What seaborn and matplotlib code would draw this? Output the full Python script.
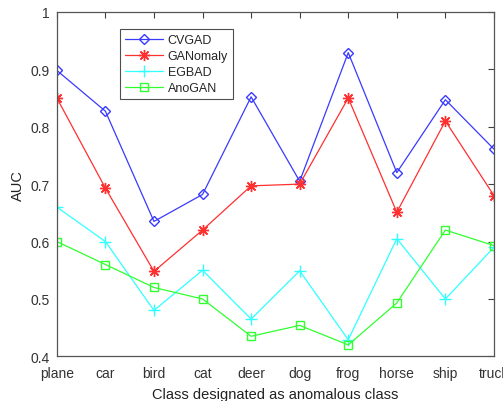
import matplotlib
matplotlib.use("Agg")
import matplotlib.pyplot as plt
import seaborn as sns
import pandas as pd

classes = ["plane", "car", "bird", "cat", "deer", "dog", "frog", "horse", "ship", "truck"]
cvgad = [0.898, 0.827, 0.635, 0.682, 0.852, 0.705, 0.929, 0.720, 0.847, 0.761]
ganomaly = [0.850, 0.693, 0.548, 0.620, 0.697, 0.700, 0.850, 0.651, 0.810, 0.680]
egbad = [0.660, 0.600, 0.480, 0.550, 0.465, 0.549, 0.429, 0.605, 0.500, 0.590]
anogan = [0.600, 0.560, 0.520, 0.500, 0.435, 0.454, 0.420, 0.493, 0.620, 0.593]
yticks = [0.4, 0.5, 0.6, 0.7, 0.8, 0.9, 1.0]
ytick_labels = ["0.4", "0.5", "0.6", "0.7", "0.8", "0.9", "1"]

sns.set_style("white")
plt.rcParams["font.family"] = ["Liberation Sans", "DejaVu Sans"]

fig = plt.figure(figsize=(5.03, 4.02), dpi=100)
ax = fig.add_axes([0.113, 0.111, 0.869, 0.857])

x = list(range(len(classes)))
series = [
    ("CVGAD", cvgad, "#3a3aff", "D", 5.5, "none"),
    ("GANomaly", ganomaly, "#ff3030", (8, 2, 0), 8, "#ff0000"),
    ("EGBAD", egbad, "#30ffff", "+", 9, "#00ffff"),
    ("AnoGAN", anogan, "#30ff30", "s", 5.5, "none"),
]
for name, vals, col, mk, ms, mfc in series:
    df = pd.DataFrame({"x": x, "y": vals})
    sns.lineplot(data=df, x="x", y="y", ax=ax, color=col, marker=mk,
                 markersize=ms, markerfacecolor=mfc, markeredgecolor=col,
                 markeredgewidth=1.0, linewidth=0.9, label=name, sort=False)

ax.set_xlim(0, 9)
ax.set_ylim(0.4, 1.0)
ax.set_xticks(x)
ax.set_xticklabels(classes)
ax.set_yticks(yticks)
ax.set_yticklabels(ytick_labels)
ax.tick_params(axis="both", direction="in", length=4, width=0.8, top=True, right=True,
               labelsize=10, colors="#404040", labelcolor="#333333")
ax.tick_params(axis="x", pad=7)
ax.tick_params(axis="y", pad=5)
for s in ax.spines.values():
    s.set_color("#555555")
    s.set_linewidth(0.9)
ax.set_xlabel("Class designated as anomalous class", fontsize=10.5, color="#222222", labelpad=5)
ax.set_ylabel("AUC", fontsize=10.5, color="#222222", labelpad=4)

leg = ax.legend(loc="upper left", bbox_to_anchor=(0.145, 0.95), fontsize=9,
                frameon=True, fancybox=False, handlelength=3.0, borderpad=0.4,
                labelspacing=0.33, handletextpad=0.4, borderaxespad=0)
leg.get_frame().set_edgecolor("#222222")
leg.get_frame().set_linewidth(0.8)

fig.savefig("out.png", dpi=100)
